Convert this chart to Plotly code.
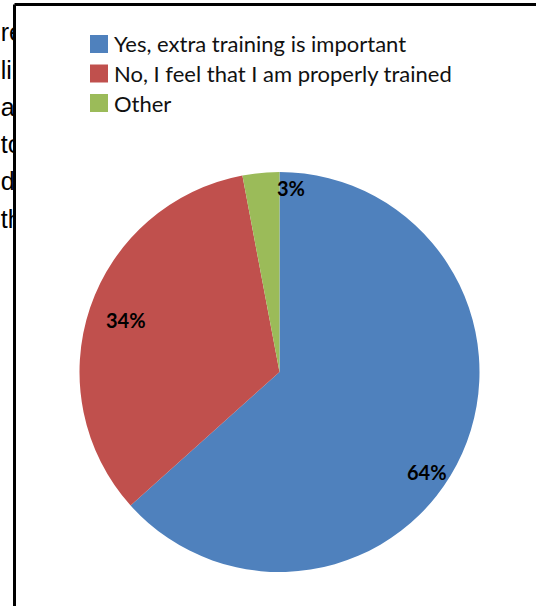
import math
import plotly.graph_objects as go

# Survey answers and their shares (percent)
categories = ["Yes, extra training is important",
              "No, I feel that I am properly trained",
              "Other"]
shares = [64, 34, 3]
share_labels = ["64%", "34%", "3%"]

# Fragments of the surrounding page text, cut off by the chart frame
page_text = ["re", "lik", "a", "to", "d", "th"]

colors = ["#4F81BD", "#C0504D", "#9BBB59"]

W, H = 536, 606
CX, CY, R = 279.5, 372.0, 200.0          # pie centre and radius in pixels
FRAME_X, FRAME_Y = 14.5, 4.5             # frame left / top edges in pixels

# label placement tweaks: (angle shift in degrees, radius fraction)
label_place = [(10.0, 0.89), (0.0, 0.81), (9.0, 0.92)]


def px_to_paper(x, y):
    return x / W, 1 - y / H


fig = go.Figure()

x0, y1 = px_to_paper(CX - R, CY - R)
x1, y0 = px_to_paper(CX + R, CY + R)
fig.add_trace(go.Pie(
    labels=categories,
    values=shares,
    marker=dict(colors=colors, line=dict(width=0)),
    sort=False,
    direction="clockwise",
    rotation=0,
    textinfo="none",
    hoverinfo="label+percent",
    showlegend=False,
    domain=dict(x=[x0, x1], y=[y0, y1]),
))

# data labels, placed along each slice's bisector
total = sum(shares)
start = 0.0
for val, txt, (shift, frac) in zip(shares, share_labels, label_place):
    span = val / total * 360.0
    ang = math.radians(start + span / 2 + shift)
    lx = CX + frac * R * math.sin(ang)
    ly = CY - frac * R * math.cos(ang)
    px, py = px_to_paper(lx, ly)
    fig.add_annotation(x=px, y=py, xref="paper", yref="paper",
                       text="<b>%s</b>" % txt, showarrow=False,
                       xanchor="center", yanchor="middle",
                       font=dict(family="Lato", size=20, color="#000000"))
    start += span

# legend: coloured squares with labels
LEG_X, LEG_Y, LEG_STEP, BOX = 90.0, 35.0, 29.5, 18.0
for i, (name, col) in enumerate(zip(categories, colors)):
    top = LEG_Y + i * LEG_STEP
    ax0, ay1 = px_to_paper(LEG_X, top)
    ax1, ay0 = px_to_paper(LEG_X + BOX, top + BOX)
    fig.add_shape(type="rect", xref="paper", yref="paper",
                  x0=ax0, x1=ax1, y0=ay0, y1=ay1,
                  fillcolor=col, line=dict(width=0))
    tx, ty = px_to_paper(LEG_X + BOX + 4, top + BOX / 2)
    fig.add_annotation(x=tx, y=ty, xref="paper", yref="paper", text=name,
                       showarrow=False, xanchor="left", yanchor="middle",
                       font=dict(family="Lato", size=22, color="#111111"))

# page text to the left of the frame, clipped at the frame edge
rows = list(range(len(page_text)))
fig.add_trace(go.Scatter(
    x=[0] * len(page_text), y=rows, text=page_text, mode="text",
    textposition="middle right", cliponaxis=True, showlegend=False,
    hoverinfo="skip",
    textfont=dict(family="Liberation Sans", size=25, color="#000000"),
    xaxis="x", yaxis="y",
))
row_top = 35.0
row_step = 37.3
y_hi = row_top - 0.5 * row_step
y_lo = row_top + (len(page_text) - 0.5) * row_step
fig.update_layout(
    xaxis=dict(domain=[0, (FRAME_X - 1) / W], range=[-0.06, 1],
               visible=False, fixedrange=True),
    yaxis=dict(domain=[1 - y_lo / H, 1 - y_hi / H],
               range=[len(page_text) - 0.5, -0.5],
               visible=False, fixedrange=True),
)

# chart frame (left and top edges visible)
fx, fy = px_to_paper(FRAME_X, FRAME_Y)
fig.add_shape(type="line", xref="paper", yref="paper",
              x0=fx, x1=fx, y0=0, y1=fy, line=dict(color="#000000", width=3))
fig.add_shape(type="line", xref="paper", yref="paper",
              x0=fx, x1=1, y0=fy, y1=fy, line=dict(color="#000000", width=3))

fig.update_layout(
    width=W, height=H,
    margin=dict(l=0, r=0, t=0, b=0),
    paper_bgcolor="#ffffff",
    plot_bgcolor="rgba(0,0,0,0)",
    showlegend=False,
)

fig.write_html("out.html")
